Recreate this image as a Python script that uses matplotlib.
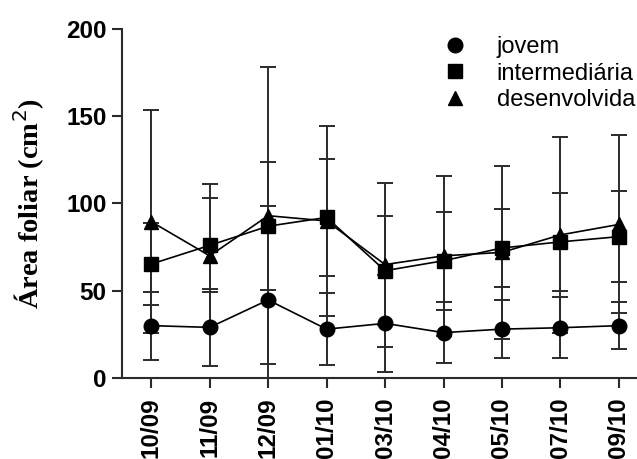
"""Leaf area by developmental stage over the sampling dates."""

import matplotlib.pyplot as plt
from matplotlib.lines import Line2D

datas = ["10/09", "11/09", "12/09", "01/10", "03/10", "04/10", "05/10", "07/10", "09/10"]

jovem = [30, 29, 44.7, 28, 31.3, 26, 28, 28.8, 30]
jovem_dp = [19.5, 22, 54, 20.6, 28, 17.5, 16.6, 17.5, 13.4]

intermediaria = [65.3, 76, 87, 92, 61.5, 67.2, 74.5, 78, 81]
intermediaria_dp = [23.5, 27, 36.5, 33.4, 31.3, 28, 22.3, 28.3, 26]

desenvolvida = [89.6, 70, 93, 90, 65, 70, 72, 82, 88]
desenvolvida_dp = [64, 41, 85, 54.4, 47, 46, 49.5, 56, 51]

series = [
    ("jovem", jovem, jovem_dp, "o", 10.5),
    ("intermediária", intermediaria, intermediaria_dp, "s", 10),
    ("desenvolvida", desenvolvida, desenvolvida_dp, "^", 10.5),
]


def main() -> None:
    fig = plt.figure(figsize=(6.37, 4.59), dpi=100)
    ax = fig.add_axes([0.1915, 0.1765, 0.8085, 0.7603])
    x = list(range(len(datas)))

    for nome, medias, dp, marker, size in series:
        ax.errorbar(
            x, medias, yerr=dp,
            fmt="none", ecolor="#2b2b2b", elinewidth=1.4,
            capsize=5.5, capthick=1.4, zorder=2,
        )
        ax.plot(
            x, medias, color="black", linewidth=1.2,
            marker=marker, markersize=size, markerfacecolor="black",
            markeredgecolor="black", zorder=3,
        )

    ax.set_xlim(-0.5, 8.31)
    ax.set_ylim(0, 200)
    ax.set_yticks([0, 50, 100, 150, 200])
    ax.set_xticks(x)
    ax.set_xticklabels(datas, rotation=90, family="Liberation Sans",
                       fontweight="bold", fontsize=17.5)
    for lbl in ax.get_yticklabels():
        lbl.set_family("Liberation Sans")
        lbl.set_fontweight("bold")
        lbl.set_fontsize(17.5)

    for side in ("top", "right"):
        ax.spines[side].set_visible(False)
    for side in ("left", "bottom"):
        ax.spines[side].set_linewidth(1.5)
        ax.spines[side].set_color("#2b2b2b")
    ax.tick_params(direction="out", length=7, width=1.5, color="#2b2b2b")
    ax.tick_params(axis="x", pad=7)
    ax.tick_params(axis="y", pad=4)

    ax.set_ylabel("Área foliar (cm$^2$)", family="Liberation Serif",
                  fontweight="bold", fontsize=20.5, labelpad=14)

    handles = [
        Line2D([], [], linestyle="none", marker=m, markersize=s,
               color="black", label=n)
        for n, _, _, m, s in series
    ]
    fig.legend(
        handles=handles, loc="upper left", bbox_to_anchor=(0.6854, 0.922),
        frameon=False, borderaxespad=0, borderpad=0,
        handlelength=1.6, handletextpad=0.95, labelspacing=0.2,
        prop={"family": "Liberation Sans", "size": 17},
    )

    fig.savefig("out.png", dpi=100)
    plt.close(fig)


if __name__ == "__main__":
    main()
